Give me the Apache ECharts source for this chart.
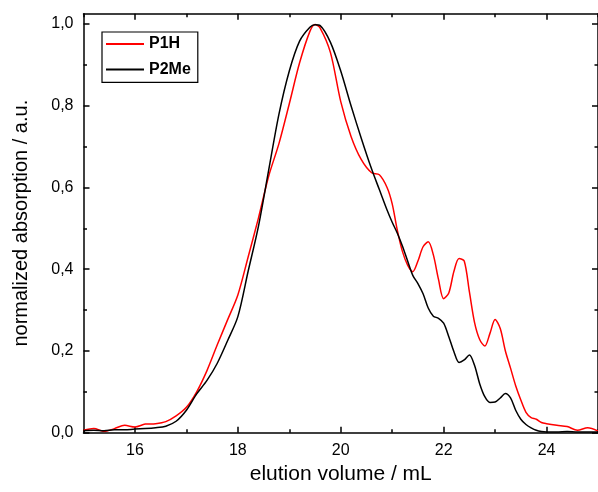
<!DOCTYPE html>
<html>
<head>
<meta charset="utf-8">
<script src="https://cdn.jsdelivr.net/npm/echarts@6/dist/echarts.min.js"></script>
<style>
  html, body { margin: 0; padding: 0; background: #fff; }
  #chart { width: 598px; height: 492px; }
</style>
</head>
<body>
<div id="chart"></div>
<script>
// elution volume / mL
const volume = [15.0, 15.2, 15.4, 15.6, 15.8, 16.0, 16.2, 16.4, 16.6, 16.8, 17.0, 17.2, 17.4, 17.6, 17.8,
  18.0, 18.2, 18.4, 18.6, 18.8, 19.0, 19.2, 19.4, 19.5, 19.6, 19.8, 20.0, 20.2, 20.4, 20.6, 20.75, 20.9,
  21.0, 21.1, 21.2, 21.3, 21.4, 21.5, 21.6, 21.7, 21.8, 21.9, 22.0, 22.1, 22.2, 22.3, 22.4, 22.5, 22.6,
  22.7, 22.8, 22.9, 23.0, 23.1, 23.2, 23.3, 23.4, 23.5, 23.6, 23.7, 23.8, 23.9, 24.0, 24.2, 24.4, 24.6,
  24.8, 25.0];

// normalized absorption, P1H (red)
const p1h = [0.006, 0.010, 0.003, 0.010, 0.018, 0.014, 0.021, 0.022, 0.027, 0.041, 0.062, 0.100, 0.152, 0.215, 0.276,
  0.337, 0.430, 0.525, 0.628, 0.708, 0.805, 0.905, 0.982, 0.999, 0.990, 0.930, 0.810, 0.725, 0.668, 0.636, 0.631, 0.600,
  0.560, 0.495, 0.443, 0.410, 0.394, 0.420, 0.455, 0.467, 0.435, 0.375, 0.328, 0.342, 0.395, 0.426, 0.420, 0.345, 0.270,
  0.228, 0.212, 0.243, 0.277, 0.255, 0.200, 0.158, 0.115, 0.080, 0.050, 0.037, 0.033, 0.025, 0.022, 0.018, 0.015, 0.006,
  0.012, 0.004];

// normalized absorption, P2Me (black)
const p2me = [0.005, 0.006, 0.005, 0.007, 0.007, 0.009, 0.010, 0.012, 0.016, 0.028, 0.055, 0.095, 0.128, 0.170, 0.225,
  0.284, 0.395, 0.505, 0.643, 0.780, 0.885, 0.958, 0.992, 0.998, 0.996, 0.955, 0.885, 0.800, 0.720, 0.645, 0.595, 0.545,
  0.515, 0.488, 0.456, 0.420, 0.385, 0.365, 0.340, 0.305, 0.285, 0.280, 0.268, 0.235, 0.198, 0.172, 0.178, 0.190, 0.165,
  0.120, 0.088, 0.074, 0.075, 0.085, 0.096, 0.085, 0.055, 0.033, 0.020, 0.012, 0.006, 0.003, 0.002, 0.002, 0.003, 0.002,
  0.002, 0.002];

const xMajor = [16, 18, 20, 22, 24];
const xMinor = [15, 17, 19, 21, 23, 25];
const yMajor = [0, 0.2, 0.4, 0.6, 0.8, 1.0];
const yMinor = [0.1, 0.3, 0.5, 0.7, 0.9];

const FONT = "'Liberation Sans', Arial, sans-serif";
const axisLineStyle = { color: '#000', width: 1.5 };

// 主刻度 / 次刻度 共用的坐标轴配置
function makeAxis(extra, ticks, len, withLabels, withLine) {
  return Object.assign({
    type: 'value',
    axisLine: { show: withLine, onZero: false, lineStyle: axisLineStyle },
    axisTick: { show: true, inside: true, length: len, customValues: ticks, lineStyle: { color: '#000', width: 1.5 } },
    axisLabel: withLabels ? {
      show: true,
      customValues: ticks,
      fontFamily: FONT,
      fontSize: 16,
      color: '#000',
      margin: 10,
      formatter: v => extra.isY ? Number(v).toFixed(1).replace('.', ',') : String(v)
    } : { show: false },
    splitLine: { show: false }
  }, extra.opt);
}

const xRange = { min: 15, max: 25 };
const yRange = { min: 0, max: 1.0252 };

let myChart = echarts.init(document.getElementById('chart'));
let option = {
  animation: false,
  textStyle: { fontFamily: FONT },
  grid: { left: 83.5, top: 13.7, width: 517.5, height: 419, containLabel: false },
  legend: {
    left: 102,
    top: 32,
    orient: 'vertical',
    itemWidth: 38,
    itemHeight: 14,
    itemGap: 9.4,
    padding: [4, 7, 5, 3],
    borderColor: '#000',
    borderWidth: 1.2,
    itemStyle: { opacity: 0 },
    textStyle: { fontFamily: FONT, fontSize: 16, fontWeight: 'bold', color: '#000' },
    data: ['P1H', 'P2Me']
  },
  xAxis: [
    makeAxis({ opt: Object.assign({ position: 'bottom', name: 'elution volume / mL', nameLocation: 'middle', nameGap: 27,
      nameTextStyle: { fontFamily: FONT, fontSize: 21, color: '#000' } }, xRange) }, xMajor, 6, true, true),
    makeAxis({ opt: Object.assign({ position: 'bottom' }, xRange) }, xMinor, 3.5, false, false),
    makeAxis({ opt: Object.assign({ position: 'top' }, xRange) }, xMajor, 6, false, true),
    makeAxis({ opt: Object.assign({ position: 'top' }, xRange) }, xMinor, 3.5, false, false)
  ],
  yAxis: [
    makeAxis({ isY: true, opt: Object.assign({ position: 'left', name: 'normalized absorption / a.u.', nameLocation: 'middle', nameGap: 52,
      nameTextStyle: { fontFamily: FONT, fontSize: 20, color: '#000' } }, yRange) }, yMajor, 6, true, true),
    makeAxis({ opt: Object.assign({ position: 'left' }, yRange) }, yMinor, 3.5, false, false),
    makeAxis({ opt: Object.assign({ position: 'right' }, yRange) }, yMajor, 6, false, true),
    makeAxis({ opt: Object.assign({ position: 'right' }, yRange) }, yMinor, 3.5, false, false)
  ],
  series: [
    {
      name: 'P1H',
      type: 'line',
      xAxisIndex: 0,
      yAxisIndex: 0,
      symbol: 'none',
      smooth: 0.3,
      lineStyle: { color: '#ff0000', width: 1.5 },
      itemStyle: { color: '#ff0000' },
      data: volume.map((v, i) => [v, p1h[i]])
    },
    {
      name: 'P2Me',
      type: 'line',
      xAxisIndex: 0,
      yAxisIndex: 0,
      symbol: 'none',
      smooth: 0.3,
      lineStyle: { color: '#000000', width: 1.5 },
      itemStyle: { color: '#000000' },
      data: volume.map((v, i) => [v, p2me[i]])
    }
  ]
};
myChart.setOption(option);
</script>
</body>
</html>
